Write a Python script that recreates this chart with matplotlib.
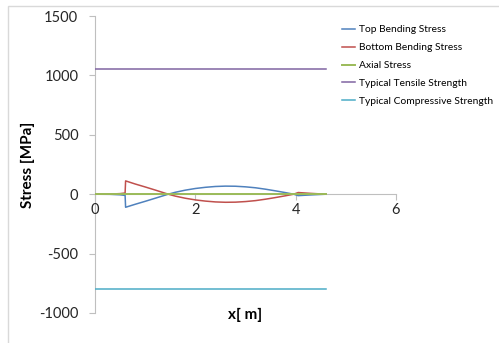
import matplotlib
matplotlib.use('Agg')
import matplotlib.pyplot as plt
from matplotlib.patches import Rectangle

# Data
x_pos = [0.0, 0.3, 0.5, 0.6, 0.61, 0.8, 1.0, 1.2, 1.46, 1.6, 1.8, 2.0, 2.2, 2.4, 2.6, 2.8, 3.0,
         3.2, 3.4, 3.6, 3.8, 3.96, 4.05, 4.3, 4.6]
top_bending = [0, -1, -5, -10, -110, -85, -60, -34, 0, 16, 34, 48, 58, 65, 68, 67, 62,
               54, 42, 28, 13, 0, -12, -6, 0]
bottom_bending = [0, 1, 5, 10, 112, 86, 61, 35, 0, -16, -34, -48, -58, -65, -68, -67, -62,
                  -54, -42, -28, -13, 0, 14, 7, 0]
axial_stress = [0] * len(x_pos)
x_limits = [0.0, 4.6]
tensile_strength = [1050, 1050]
compressive_strength = [-800, -800]

series_names = ["Top Bending Stress", "Bottom Bending Stress", "Axial Stress",
                "Typical Tensile Strength", "Typical Compressive Strength"]
colors = ['#4F81BD', '#C0504D', '#9BBB59', '#8064A2', '#4BACC6']

plt.rcParams['font.family'] = ['Lato', 'DejaVu Sans']
plt.rcParams['axes.unicode_minus'] = False

fig = plt.figure(figsize=(4.99, 3.43), dpi=100)
ax = fig.add_axes([95 / 499, 1 - 313 / 343, 301 / 499, 297 / 343])

ax.plot(x_pos, top_bending, color=colors[0], lw=1.1, label=series_names[0], zorder=3)
ax.plot(x_pos, bottom_bending, color=colors[1], lw=1.1, label=series_names[1], zorder=3)
ax.plot(x_pos, axial_stress, color=colors[2], lw=1.4, label=series_names[2], zorder=3)
ax.plot(x_limits, tensile_strength, color=colors[3], lw=1.1, label=series_names[3], zorder=3)
ax.plot(x_limits, compressive_strength, color=colors[4], lw=1.1, label=series_names[4], zorder=3)

ax.set_xlim(0, 6)
ax.set_ylim(-1000, 1500)
ax.set_xticks([0, 2, 4, 6])
ax.set_yticks([-1000, -500, 0, 500, 1000, 1500])

grey = '#BFBFBF'
ax.spines['top'].set_visible(False)
ax.spines['right'].set_visible(False)
ax.spines['bottom'].set_position(('data', 0))
ax.spines['bottom'].set_color(grey)
ax.spines['left'].set_color(grey)
ax.spines['bottom'].set_zorder(1)
ax.spines['left'].set_zorder(1)
ax.tick_params(axis='both', colors=grey, labelcolor='#262626', labelsize=10.5, length=4, width=0.8)
ax.tick_params(axis='x', pad=2)
ax.tick_params(axis='y', pad=8)

ax.set_ylabel('Stress [MPa]', fontsize=11, fontweight='bold', labelpad=3)
ax.text(0.5, -2 / 297, 'x[ m]', transform=ax.transAxes, ha='center', va='center',
        fontsize=11, fontweight='bold')

ax.legend(loc='upper left', bbox_to_anchor=(338 / 499, 1 - 21 / 343), bbox_transform=fig.transFigure,
          frameon=False, fontsize=7.4, handlelength=1.3, handletextpad=0.3, labelspacing=0.85,
          borderaxespad=0)

fig.patches.append(Rectangle((8 / 499, -0.1), 1.1, 1 - 6 / 343 + 0.1, transform=fig.transFigure,
                             fill=False, edgecolor='#D9D9D9', lw=1))

fig.savefig('out.png', dpi=100, facecolor='white')
